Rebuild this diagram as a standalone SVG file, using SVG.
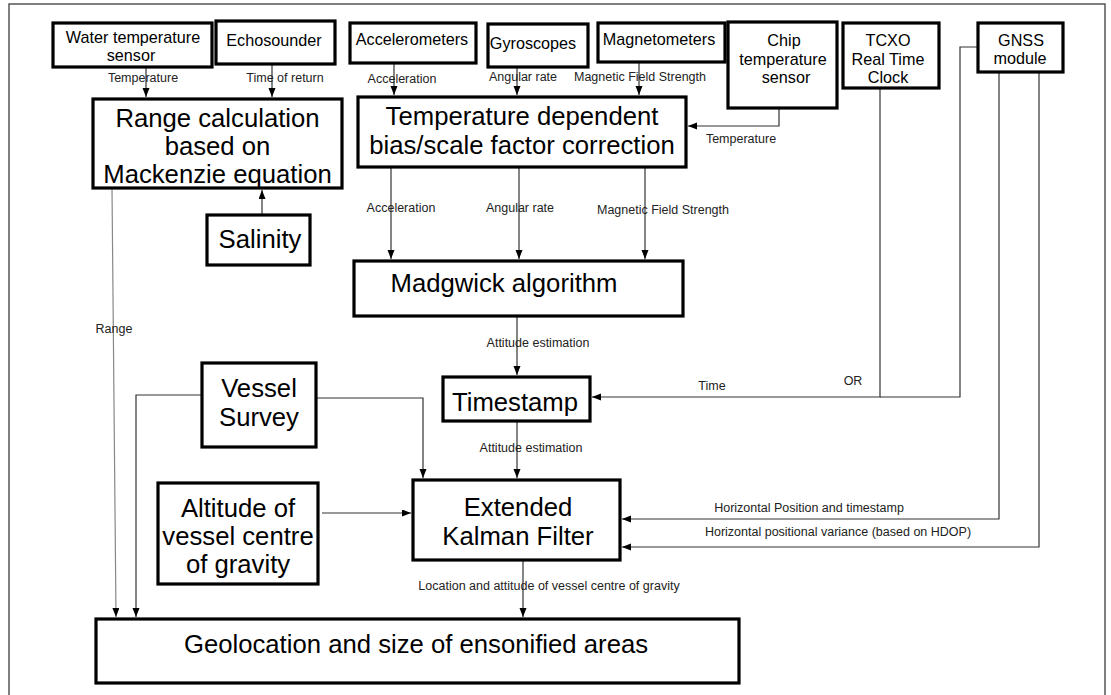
<svg xmlns="http://www.w3.org/2000/svg" width="1111" height="695" viewBox="0 0 1111 695">
<style>
.box{fill:#fff;stroke:#000;stroke-width:3.2}
.t{font-family:"Liberation Sans",Arial,sans-serif;fill:#000;text-anchor:middle}
.s{font-size:16.2px}
.b{font-size:25.7px}
.l{font-family:"Liberation Sans",Arial,sans-serif;font-size:12.5px;fill:#222;text-anchor:middle}
.c{fill:none;stroke:#333;stroke-width:1.2}
.a{marker-end:url(#ah)}
.g{stroke:#888}
</style>
<defs>
<marker id="ah" markerUnits="userSpaceOnUse" markerWidth="10" markerHeight="8" refX="9" refY="3.5" orient="auto">
<path d="M0,0 L9,3.5 L0,7 z" fill="#000"/>
</marker>
</defs>
<rect x="0" y="0" width="1111" height="695" fill="#fff"/>
<rect x="9" y="4" width="1096" height="700" fill="none" stroke="#555" stroke-width="1.5"/>

<g id="connectors">
<path class="c a" d="M146,67 V97"/>
<path class="c a" d="M272,64 V97"/>
<path class="c a" d="M394,63 V95"/>
<path class="c a" d="M517,67 V95"/>
<path class="c a" d="M639,62 V95"/>
<path class="c a" d="M779,108 V126 H688"/>
<path class="c a" d="M391,167 V259"/>
<path class="c a" d="M519,167 V259"/>
<path class="c a" d="M645,167 V259"/>
<path class="c a" d="M262,215 V190"/>
<path class="c a" d="M517,316 V375"/>
<path class="c a" d="M880,88 V397 H592"/>
<path class="c" d="M978,47 H960 V397 H880"/>
<path class="c a" d="M999,72 V519 H622"/>
<path class="c a" d="M1039,72 V547 H622"/>
<path class="c a" d="M517,421 V478"/>
<path class="c a" d="M316,398 H423 V478"/>
<path class="c a" d="M202,395 H136 V617"/>
<path class="c a g" d="M112,188 L116,617"/>
<path class="c a" d="M322,513 H411"/>
<path class="c a" d="M523,560 V617"/>
<text class="l" x="143" y="82">Temperature</text>
<text class="l" x="285" y="82">Time of return</text>
<text class="l" x="402" y="83">Acceleration</text>
<text class="l" x="523" y="81">Angular rate</text>
<text class="l" x="640" y="81">Magnetic Field Strength</text>
<text class="l" x="741" y="143">Temperature</text>
<text class="l" x="401" y="212">Acceleration</text>
<text class="l" x="520" y="212">Angular rate</text>
<text class="l" x="663" y="214">Magnetic Field Strength</text>
<text class="l" x="114" y="333">Range</text>
<text class="l" x="538" y="347">Attitude estimation</text>
<text class="l" x="712" y="390">Time</text>
<text class="l" x="853" y="385">OR</text>
<text class="l" x="531" y="452">Attitude estimation</text>
<text class="l" x="809" y="512">Horizontal Position and timestamp</text>
<text class="l" x="838" y="536">Horizontal positional variance (based on HDOP)</text>
<text class="l" x="549" y="590">Location and attitude of vessel centre of gravity</text>
</g>

<g id="water-temp">
<rect class="box" x="53" y="23" width="159" height="44"/>
<text class="t s" x="133" y="43">Water temperature</text>
<text class="t s" x="131" y="61">sensor</text>
</g>
<g id="echosounder">
<rect class="box" x="216" y="21" width="119" height="43"/>
<text class="t s" x="274" y="46">Echosounder</text>
</g>
<g id="range-calc">
<rect class="box" x="93" y="99" width="249" height="89"/>
<text class="t b" x="217.5" y="127">Range calculation</text>
<text class="t b" x="217.5" y="155">based on</text>
<text class="t b" x="217.5" y="183">Mackenzie equation</text>
</g>
<g id="accelerometers">
<rect class="box" x="350" y="23" width="126" height="40"/>
<text class="t s" x="412" y="45">Accelerometers</text>
</g>
<g id="gyroscopes">
<rect class="box" x="488" y="24" width="100" height="43"/>
<text class="t s" x="533" y="49">Gyroscopes</text>
</g>
<g id="magnetometers">
<rect class="box" x="598" y="23" width="127" height="39"/>
<text class="t s" x="659" y="45">Magnetometers</text>
</g>
<g id="temp-dep">
<rect class="box" x="358" y="97" width="328" height="70"/>
<text class="t b" x="522" y="125">Temperature dependent</text>
<text class="t b" x="522" y="154">bias/scale factor correction</text>
</g>
<g id="chip-temp">
<rect class="box" x="728" y="22" width="109" height="86"/>
<text class="t s" x="784" y="46">Chip</text>
<text class="t s" x="783" y="65">temperature</text>
<text class="t s" x="786" y="83">sensor</text>
</g>
<g id="tcxo">
<rect class="box" x="843" y="23" width="96" height="65"/>
<text class="t s" x="888" y="46">TCXO</text>
<text class="t s" x="888" y="65">Real Time</text>
<text class="t s" x="888" y="83">Clock</text>
</g>
<g id="gnss">
<rect class="box" x="978" y="23" width="85" height="49"/>
<text class="t s" x="1021" y="46">GNSS</text>
<text class="t s" x="1020" y="64">module</text>
</g>
<g id="salinity">
<rect class="box" x="207" y="215" width="103" height="50"/>
<text class="t b" x="260" y="248">Salinity</text>
</g>
<g id="madgwick">
<rect class="box" x="354" y="261" width="329" height="55"/>
<text class="t b" x="504" y="292">Madgwick algorithm</text>
</g>
<g id="timestamp">
<rect class="box" x="443" y="377" width="147" height="44"/>
<text class="t b" x="515" y="411">Timestamp</text>
</g>
<g id="vessel-survey">
<rect class="box" x="202" y="363" width="114" height="84"/>
<text class="t b" x="259" y="397">Vessel</text>
<text class="t b" x="259" y="426">Survey</text>
</g>
<g id="altitude">
<rect class="box" x="158" y="483" width="160" height="101"/>
<text class="t b" x="238" y="517">Altitude of</text>
<text class="t b" x="238" y="545">vessel centre</text>
<text class="t b" x="238" y="573">of gravity</text>
</g>
<g id="ekf">
<rect class="box" x="413" y="480" width="207" height="80"/>
<text class="t b" x="518" y="516">Extended</text>
<text class="t b" x="518" y="545">Kalman Filter</text>
</g>
<g id="geolocation">
<rect class="box" x="96" y="619" width="643" height="64"/>
<text class="t b" x="416" y="653">Geolocation and size of ensonified areas</text>
</g>
</svg>
